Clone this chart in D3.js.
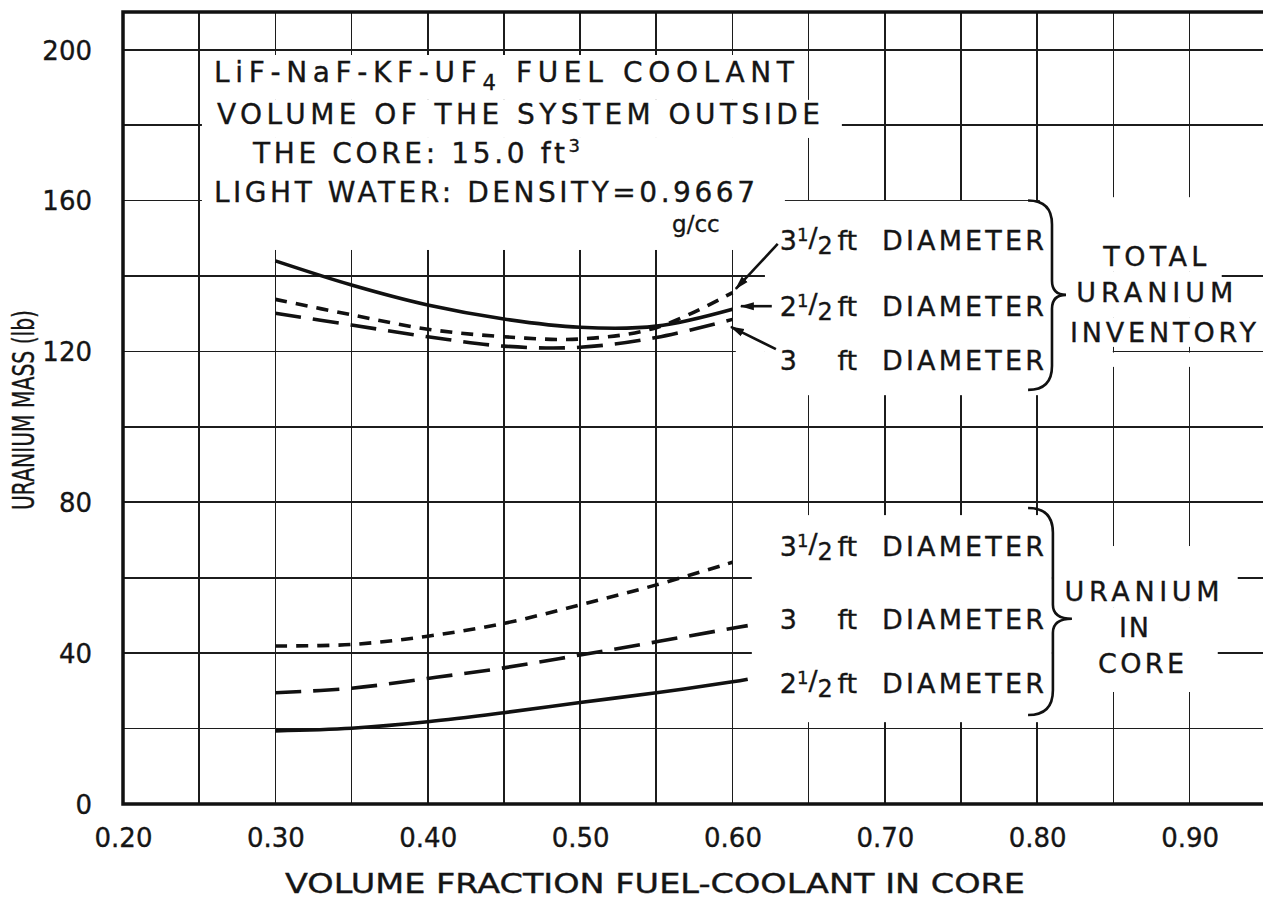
<!DOCTYPE html>
<meta charset="utf-8">
<head>
<style>
body { margin: 0; background: #fff; }
svg text { font-family: "DejaVu Sans", sans-serif; fill: #151515; stroke: #151515; stroke-width: 0.35; }
.grid line { stroke: #1c1c1c; stroke-width: 1.6; shape-rendering: crispEdges; }
.frame { stroke: #111; stroke-width: 3.5; fill: none; }
.curve { fill: none; stroke: #111; stroke-width: 3.6; }
.mask { fill: #fff; }
.brace, .arrow { fill: none; stroke: #111; stroke-width: 2.6; }
</style>
</head>
<body>
<script src="https://d3js.org/d3.v7.min.js"></script>
<script>

// volume fraction of fuel-coolant in core
var fractions = [0.30, 0.35, 0.40, 0.45, 0.50, 0.55, 0.60, 0.61];

// total uranium inventory (lb)
var total25 = [144.0, 137.6, 132.3, 128.6, 126.4, 126.7, 131.2];
var total3  = [130.1, 127.0, 123.9, 121.4, 121.1, 123.7, 128.5];
var total35 = [133.8, 129.7, 125.9, 123.9, 123.3, 126.3, 135.6];

// uranium in core (lb)
var core25 = [19.4, 20.1, 21.8, 24.2, 26.9, 29.5, 32.4, 33.1];
var core3  = [29.5, 30.7, 33.3, 36.1, 39.5, 43.0, 46.6, 47.3];
var core35 = [41.9, 42.3, 44.5, 47.9, 52.8, 58.1, 64.1];

var xTicks = [0.20, 0.30, 0.40, 0.50, 0.60, 0.70, 0.80, 0.90];
var yTicks = [0, 40, 80, 120, 160, 200];
var xGrid = [0.25, 0.30, 0.35, 0.40, 0.45, 0.50, 0.55, 0.60, 0.65, 0.70, 0.75, 0.80, 0.85, 0.90, 0.95];
var yGrid = [20, 40, 60, 80, 100, 120, 140, 160, 180, 200];

var width = 1263, height = 902;

var x = d3.scaleLinear().domain([0.20, 0.96]).range([123, 1281]);
var y = d3.scaleLinear().domain([0, 210]).range([804, 12]);

var svg = d3.select("body").append("svg")
    .attr("width", width)
    .attr("height", height);

var defs = svg.append("defs");
defs.append("marker")
    .attr("id", "head")
    .attr("viewBox", "0 -5 14 10")
    .attr("refX", 13)
    .attr("refY", 0)
    .attr("markerWidth", 14)
    .attr("markerHeight", 10)
    .attr("markerUnits", "userSpaceOnUse")
    .attr("orient", "auto")
  .append("path")
    .attr("d", "M0,-4L14,0L0,4Z")
    .style("fill", "#111");

// grid
var grid = svg.append("g").attr("class", "grid");
grid.selectAll(".v").data(xGrid).enter().append("line")
    .attr("class", "v")
    .attr("x1", function(d) { return x(d); })
    .attr("x2", function(d) { return x(d); })
    .attr("y1", y(0))
    .attr("y2", y(210));
grid.selectAll(".h").data(yGrid).enter().append("line")
    .attr("class", "h")
    .attr("x1", x(0.20))
    .attr("x2", x(0.96))
    .attr("y1", function(d) { return y(d); })
    .attr("y2", function(d) { return y(d); });

// white patches behind the lettering (grid is broken there)
function mask(x0, x1, v0, v1) {
  svg.append("rect").attr("class", "mask")
      .attr("x", x(x0))
      .attr("y", y(v1))
      .attr("width", x(x1) - x(x0))
      .attr("height", y(v0) - y(v1));
}
mask(0.2518, 0.6442, 186.7, 198.6);
mask(0.2518, 0.6718, 176.6, 186.7);
mask(0.2518, 0.6344, 146.9, 176.6);
mask(0.6213, 0.8096, 108.4, 159.9);
mask(0.6022, 0.6213, 108.4, 123.0);
mask(0.8017, 0.96, 141.1, 160.9);
mask(0.8017, 0.9211, 128.9, 141.1);
mask(0.8017, 0.96, 121.2, 128.9);
mask(0.8017, 0.8496, 115.9, 121.2);
mask(0.8496, 0.96, 115.9, 119.7);
mask(0.6127, 0.8096, 21.7, 76.6);
mask(0.8096, 0.9316, 52.0, 68.4);
mask(0.8096, 0.9185, 29.7, 52.0);

// frame
svg.append("path").attr("class", "frame")
    .attr("d", "M" + x(0.96) + "," + y(210) + "H" + x(0.20) + "V" + y(0) + "H" + x(0.96));

// axes
var xAxis = d3.axisBottom(x).tickValues(xTicks).tickSize(0).tickFormat(d3.format(".2f"));
var yAxis = d3.axisLeft(y).tickValues(yTicks).tickSize(0).tickPadding(31).tickFormat(d3.format("d"));

var gx = svg.append("g")
    .attr("transform", "translate(0," + y(0) + ")")
    .call(xAxis);
gx.select(".domain").remove();
gx.selectAll("text")
    .attr("y", 34)
    .attr("dy", "0.36em")
    .attr("font-size", 26)
    .attr("font-family", "DejaVu Sans")
    .style("fill", "#151515");

var gy = svg.append("g")
    .attr("transform", "translate(" + x(0.20) + ",0)")
    .call(yAxis);
gy.select(".domain").remove();
gy.selectAll("text")
    .attr("dy", "0.36em")
    .attr("font-size", 26)
    .attr("font-family", "DejaVu Sans")
    .style("fill", "#151515");

svg.append("text")
    .attr("transform", "translate(23," + ((y(0) + y(210)) / 2 + 2) + ") rotate(-90)")
    .attr("dy", "0.36em")
    .attr("font-size", 30)
    .attr("textLength", 200)
    .attr("lengthAdjust", "spacingAndGlyphs")
    .style("text-anchor", "middle")
    .text("URANIUM MASS (lb)");

svg.append("text")
    .attr("x", 655)
    .attr("y", 884)
    .attr("dy", "0.36em")
    .attr("font-size", 26)
    .attr("textLength", 740)
    .attr("lengthAdjust", "spacingAndGlyphs")
    .style("text-anchor", "middle")
    .text("VOLUME FRACTION FUEL-COOLANT IN CORE");

// curves
var line = d3.line()
    .x(function(d) { return x(d[0]); })
    .y(function(d) { return y(d[1]); })
    .curve(d3.curveCatmullRom.alpha(0.5));

var series = [
  { vals: total25, dash: null },
  { vals: total3,  dash: "26,12" },
  { vals: total35, dash: "12,9" },
  { vals: core25,  dash: null },
  { vals: core3,   dash: "26,12" },
  { vals: core35,  dash: "12,9" }
];

svg.selectAll(".curve").data(series).enter().append("path")
    .attr("class", "curve")
    .attr("d", function(s) {
      return line(s.vals.map(function(v, i) { return [fractions[i], v]; }));
    })
    .style("stroke-dasharray", function(s) { return s.dash; });

// leader arrows to the ends of the inventory curves
function arrow(x0, v0, x1, v1) {
  svg.append("line").attr("class", "arrow")
      .attr("x1", x(x0)).attr("y1", y(v0))
      .attr("x2", x(x1)).attr("y2", y(v1))
      .attr("marker-end", "url(#head)");
}
arrow(0.6297, 148.5, 0.6022, 136.6);
arrow(0.6258, 132.0, 0.6055, 132.0);
arrow(0.6285, 120.6, 0.5990, 126.5);

// curly braces
function brace(xEnd, xSpine, xTip, vTop, vBot, vTip) {
  var x0 = x(xEnd), x1 = x(xSpine), x2 = x(xTip);
  var y0 = y(vTop), y1 = y(vBot), ym = y(vTip);
  var r = x1 - x0, r2 = 14;
  var p = d3.path();
  p.moveTo(x0, y0);
  p.quadraticCurveTo(x1, y0, x1, y0 + r);
  p.lineTo(x1, ym - r2);
  p.quadraticCurveTo(x1, ym, x2, ym);
  p.quadraticCurveTo(x1, ym, x1, ym + r2);
  p.lineTo(x1, y1 - r);
  p.quadraticCurveTo(x1, y1, x0, y1);
  svg.append("path").attr("class", "brace").attr("d", p.toString());
}
brace(0.7940, 0.8097, 0.8189, 160.0, 109.8, 135.0);
brace(0.7940, 0.8103, 0.8228, 78.5, 23.6, 49.1);

// lettering
function note(xv, yv, size, anchor, len) {
  var t = svg.append("text")
      .attr("x", x(xv))
      .attr("y", y(yv))
      .attr("dy", "0.36em")
      .attr("font-size", size)
      .style("text-anchor", anchor || "start");
  if (len) t.attr("textLength", len).attr("lengthAdjust", "spacing");
  return t;
}

var t1 = note(0.2597, 194.1, 28, "start", 580);
t1.append("tspan").text("LiF-NaF-KF-UF");
t1.append("tspan").attr("dy", 8).attr("font-size", 21).text("4");
t1.append("tspan").attr("dy", -8).text(" FUEL COOLANT");

note(0.2617, 182.9, 28, "start", 603).text("VOLUME OF THE SYSTEM OUTSIDE");

var t3 = note(0.2853, 172.6, 28, "start", 327);
t3.append("tspan").text("THE CORE: 15.0 ft");
t3.append("tspan").attr("dy", -11).attr("font-size", 18).text("3");

note(0.2597, 162.3, 28, "start", 541).text("LIGHT WATER: DENSITY=0.9667");
note(0.576, 153.8, 23, "middle").text("g/cc");

// "3½", "2½", "3" written with a stacked fraction
function size(xv, yv, whole, half) {
  var t = note(xv, yv, 27, "start");
  t.append("tspan").text(whole);
  if (half) {
    t.append("tspan").attr("dy", -9).attr("font-size", 18).text("1");
    t.append("tspan").attr("dy", 6).attr("font-size", 27).text("/");
    t.append("tspan").attr("dy", 7).attr("font-size", 24).text("2");
  }
}

var diaRowsTop = [149.5, 132.0, 117.7];
var diaRowsCore = [68.4, 49.1, 32.1];
var sizesTop = [["3", true], ["2", true], ["3", false]];
var sizesCore = [["3", true], ["3", false], ["2", true]];

[[diaRowsTop, sizesTop], [diaRowsCore, sizesCore]].forEach(function(g) {
  g[0].forEach(function(v, i) {
    size(0.6311, v, g[1][i][0], g[1][i][1]);
    note(0.6690, v, 27, "start").text("ft");
    note(0.6981, v, 27, "start", 162).text("DIAMETER");
  });
});

note(0.8772, 145.3, 27, "middle", 103).text("TOTAL");
note(0.8772, 135.8, 27, "middle", 157).text("URANIUM");
note(0.8825, 125.2, 27, "middle", 186).text("INVENTORY");

note(0.8688, 56.5, 27, "middle", 155).text("URANIUM");
note(0.8635, 46.9, 27, "middle", 30).text("IN");
note(0.8681, 37.4, 27, "middle", 86).text("CORE");

</script>
</body>
